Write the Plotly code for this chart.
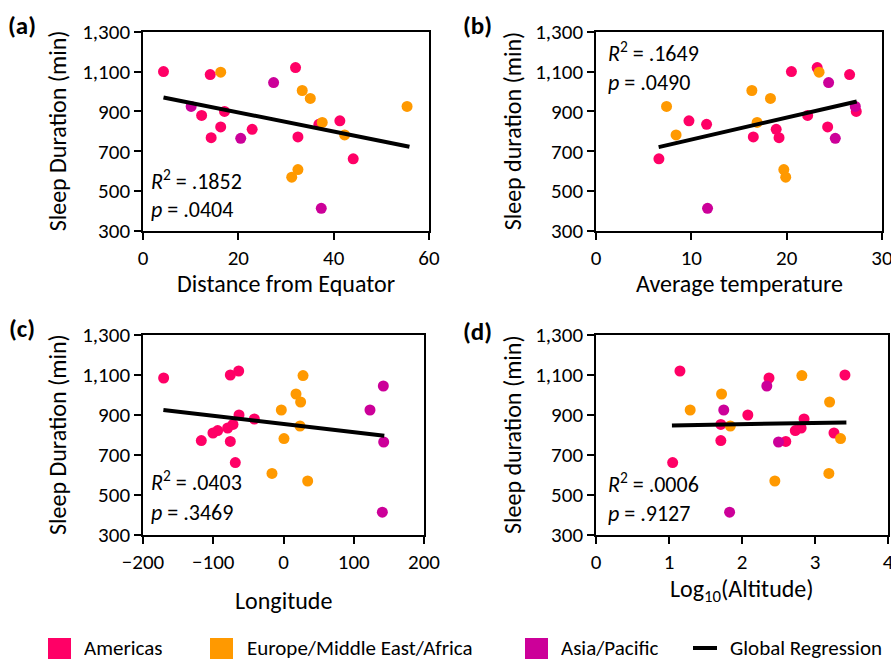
import plotly.graph_objects as go

# ---------------- data ----------------
regions = ["Americas", "Europe/Middle East/Africa", "Asia/Pacific"]
region_colors = ["#FF0066", "#FF9900", "#CC0099"]

country_region = (["Americas"] * 12 + ["Europe/Middle East/Africa"] * 8 + ["Asia/Pacific"] * 4)
sleep_min = [1100, 1085, 1120, 880, 900, 822, 768, 810, 772, 835, 853, 662,
             1097, 1005, 965, 925, 845, 782, 608, 570,
             1045, 925, 765, 414]
distance_equator = [4.3, 14.1, 32.0, 12.3, 17.1, 16.3, 14.3, 22.9, 32.5, 36.9, 41.3, 44.1,
                    16.3, 33.4, 35.1, 55.4, 37.6, 42.3, 32.5, 31.2,
                    27.4, 10.1, 20.5, 37.4]
avg_temperature = [20.5, 26.6, 23.2, 22.2, 27.3, 24.3, 19.2, 18.9, 16.5, 11.6, 9.75, 6.6,
                   23.4, 16.35, 18.3, 7.4, 16.9, 8.4, 19.7, 19.9,
                   24.4, 27.2, 25.1, 11.7]
longitude = [-75.7, -170.6, -63.8, -41.5, -63.3, -93.7, -75.7, -100.4, -117.0, -79.5, -71.9, -68.6,
             27.8, 17.8, 24.4, -3.1, 23.5, 0.7, -16.4, 34.4,
             142.1, 123.1, 142.6, 140.7]
log_altitude = [3.41, 2.37, 1.15, 2.85, 2.08, 2.73, 2.60, 3.26, 1.71, 2.81, 1.71, 1.05,
                2.82, 1.72, 3.20, 1.29, 1.84, 3.35, 3.19, 2.45,
                2.34, 1.75, 2.50, 1.83]

# regression line end points
fit_a_x, fit_a_y = [4.3, 55.9], [970, 723]
fit_b_x, fit_b_y = [6.57, 27.35], [721, 950]
fit_c_x, fit_c_y = [-171.0, 143.5], [925, 796]
fit_d_x, fit_d_y = [1.04, 3.43], [848, 863]

stats_a = ["<i>R</i><sup>2</sup> = .1852", "<i>p</i> = .0404"]
stats_b = ["<i>R</i><sup>2</sup> = .1649", "<i>p</i> = .0490"]
stats_c = ["<i>R</i><sup>2</sup> = .0403", "<i>p</i> = .3469"]
stats_d = ["<i>R</i><sup>2</sup> = .0006", "<i>p</i> = .9127"]

x_titles = ["Distance from Equator", "Average temperature", "Longitude",
            "Log<sub>10</sub>(Altitude)"]
y_titles = ["Sleep Duration (min)", "Sleep duration (min)", "Sleep Duration (min)",
            "Sleep duration (min)"]
panel_labels = ["(a)", "(b)", "(c)", "(d)"]
y_ticks = [300, 500, 700, 900, 1100, 1300]
x_ticks = [[0, 20, 40, 60], [0, 10, 20, 30], [-200, -100, 0, 100, 200], [0, 1, 2, 3, 4]]
x_ranges = [[0, 60], [0, 30], [-200, 200], [0, 4]]

# ---------------- layout helpers ----------------
W, H = 891, 659
FONT = "Carlito, Lato, sans-serif"


def fx(p):
    return p / W


def fy(p):
    return 1 - p / H


# pixel boxes of the plot areas: (left, right, top, bottom)
boxes = [(143, 429, 31.7, 231), (596, 882, 31.7, 231),
         (143, 424, 335, 535), (596, 888, 335, 535)]

fig = go.Figure()
xs_all = [distance_equator, avg_temperature, longitude, log_altitude]
fits = [(fit_a_x, fit_a_y), (fit_b_x, fit_b_y), (fit_c_x, fit_c_y), (fit_d_x, fit_d_y)]
stats = [stats_a, stats_b, stats_c, stats_d]

for i in range(4):
    xa = "x" if i == 0 else f"x{i + 1}"
    ya = "y" if i == 0 else f"y{i + 1}"
    xs = xs_all[i]
    for reg, col in zip(regions, region_colors):
        px = [x for x, r in zip(xs, country_region) if r == reg]
        py = [y for y, r in zip(sleep_min, country_region) if r == reg]
        fig.add_trace(go.Scatter(x=px, y=py, mode="markers", xaxis=xa, yaxis=ya,
                                 marker=dict(color=col, size=11, line=dict(width=0)),
                                 name=reg, showlegend=False, cliponaxis=False))
    fig.add_trace(go.Scatter(x=fits[i][0], y=fits[i][1], mode="lines", xaxis=xa, yaxis=ya,
                             line=dict(color="black", width=4), name="Global Regression",
                             showlegend=False))

TICK_SIZE = 21
TITLE_SIZE = 24
STAT_SIZE = 22
LEGEND_SIZE = 21
LABEL_SIZE = 25

axis_common = dict(showline=True, linecolor="black", linewidth=1.5, mirror=True,
                   ticks="outside", ticklen=7, tickwidth=1.5, tickcolor="black",
                   showgrid=False, zeroline=False, automargin=False,
                   ticklabeloverflow="allow",
                   tickfont=dict(family=FONT, size=TICK_SIZE, color="black"))

layout = dict(width=W, height=H, margin=dict(l=0, r=0, t=0, b=0, autoexpand=False),
              paper_bgcolor="white", plot_bgcolor="white", showlegend=False,
              font=dict(family=FONT, size=20, color="black"))

annotations = []
for i, (l, r, t, b) in enumerate(boxes):
    sfx = "" if i == 0 else str(i + 1)
    layout["xaxis" + sfx] = dict(axis_common, domain=[fx(l), fx(r)], range=x_ranges[i],
                                 tickvals=x_ticks[i], anchor="y" + sfx)
    layout["yaxis" + sfx] = dict(axis_common, domain=[fy(b), fy(t)], range=[300, 1300],
                                 tickvals=y_ticks, tickformat=",", anchor="x" + sfx)

# axis titles, panel labels, statistics (pixel positions)
x_title_y = [283, 283, 600, 590]
y_title_x = [57, 512, 57, 512]
label_pos = [(22, 26), (477, 26), (22, 328), (477, 331)]
stat_pos = [(149, 180, 209), (606, 52, 83), (149, 481, 512), (606, 483, 513)]
for i, (l, r, t, b) in enumerate(boxes):
    annotations.append(dict(text=x_titles[i], xref="paper", yref="paper",
                            x=fx((l + r) / 2), y=fy(x_title_y[i]), xanchor="center",
                            yanchor="middle", showarrow=False, font=dict(size=TITLE_SIZE)))
    annotations.append(dict(text=y_titles[i], xref="paper", yref="paper",
                            x=fx(y_title_x[i]), y=fy((t + b) / 2), xanchor="center",
                            yanchor="middle", textangle=-90, showarrow=False,
                            font=dict(size=TITLE_SIZE)))
    annotations.append(dict(text="<b>" + panel_labels[i] + "</b>", xref="paper", yref="paper",
                            x=fx(label_pos[i][0]), y=fy(label_pos[i][1]), xanchor="center",
                            yanchor="middle", showarrow=False, font=dict(size=LABEL_SIZE)))
    sx, sy1, sy2 = stat_pos[i]
    annotations.append(dict(text=stats[i][0], xref="paper", yref="paper",
                            x=fx(sx), y=fy(sy1), xanchor="left", yanchor="middle",
                            showarrow=False, font=dict(size=STAT_SIZE)))
    annotations.append(dict(text=stats[i][1], xref="paper", yref="paper",
                            x=fx(sx), y=fy(sy2), xanchor="left", yanchor="middle",
                            showarrow=False, font=dict(size=STAT_SIZE)))

# legend (drawn as keys + labels along the bottom)
shapes = []
legend_key_x = [48, 210, 525]
legend_text_x = [83, 246, 560]
LEG_Y = 647
for kx, col, txt, tx in zip(legend_key_x, region_colors, regions, legend_text_x):
    shapes.append(dict(type="rect", xref="paper", yref="paper",
                       x0=fx(kx), x1=fx(kx + 23), y0=fy(660), y1=fy(638),
                       fillcolor=col, line=dict(width=0)))
    annotations.append(dict(text=txt, xref="paper", yref="paper", x=fx(tx), y=fy(LEG_Y),
                            xanchor="left", yanchor="middle", showarrow=False, height=23,
                            borderpad=0, font=dict(size=LEGEND_SIZE)))
shapes.append(dict(type="line", xref="paper", yref="paper", x0=fx(693), x1=fx(717),
                   y0=fy(648), y1=fy(648), line=dict(color="black", width=4)))
annotations.append(dict(text="Global Regression", xref="paper", yref="paper", x=fx(729),
                        y=fy(LEG_Y), xanchor="left", yanchor="middle", showarrow=False,
                        height=23, borderpad=0, font=dict(size=LEGEND_SIZE)))

layout["annotations"] = annotations
layout["shapes"] = shapes
fig.update_layout(**layout)
fig.write_html("out.html", config={"displayModeBar": False},
               post_script="document.body.style.margin='0';document.body.style.overflow='hidden';")
